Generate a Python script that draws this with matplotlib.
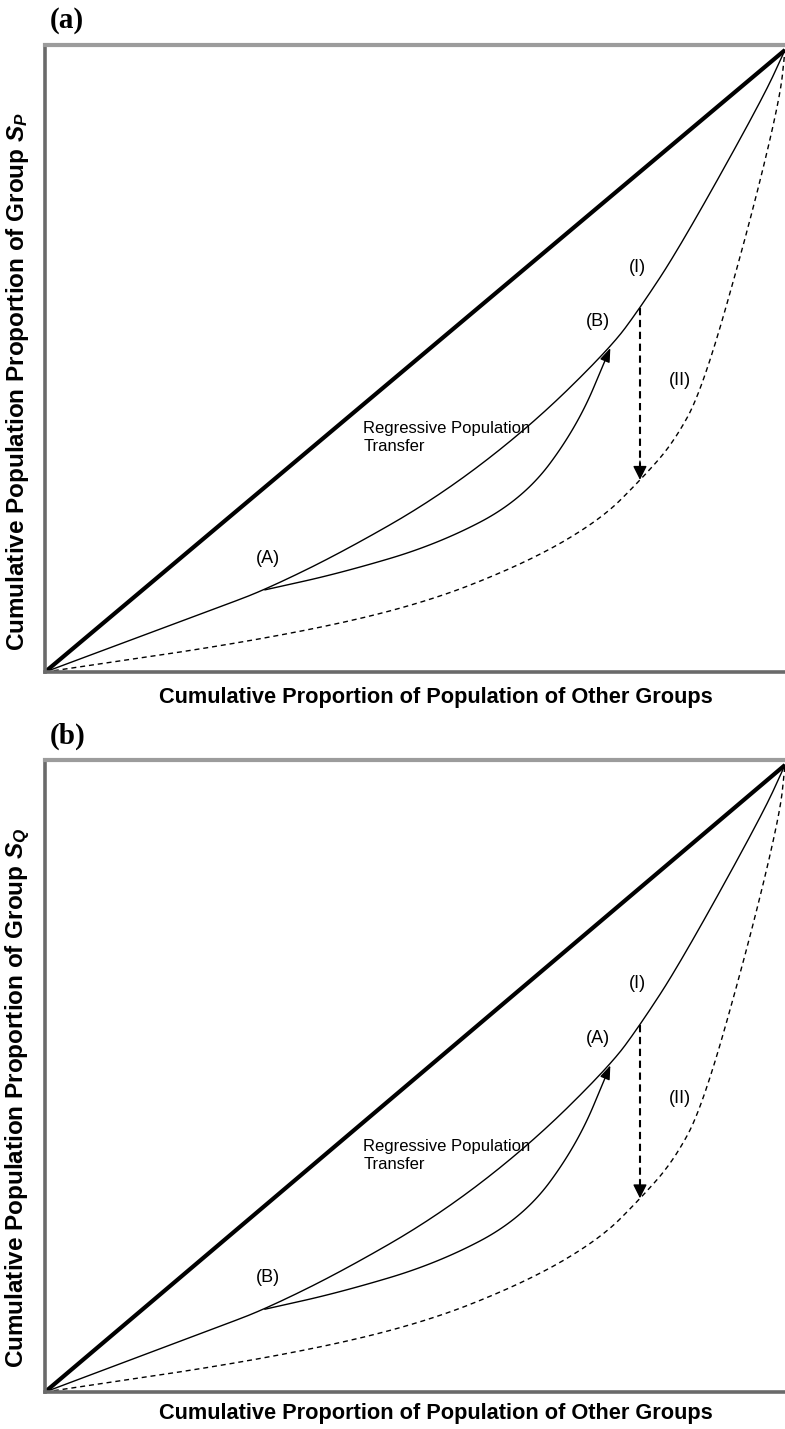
import numpy as np
import matplotlib
matplotlib.use("Agg")
import matplotlib.pyplot as plt
from matplotlib.path import Path
from matplotlib.patches import FancyArrowPatch

plt.rcParams['font.family'] = ['Liberation Sans', 'DejaVu Sans']
plt.rcParams['mathtext.fontset'] = 'custom'
plt.rcParams['mathtext.it'] = 'Liberation Sans:italic:bold'
plt.rcParams['mathtext.rm'] = 'Liberation Sans:bold'

# Line of equality
equality_x = [0.0, 1.0]
equality_y = [0.0, 1.0]

# Curve (I): concentration curve before the transfer
curve1_x = [0.0, 0.236, 0.297, 0.399, 0.530, 0.655, 0.764, 0.804, 0.858, 0.969, 1.0]
curve1_y = [0.0, 0.1045, 0.132, 0.191, 0.280, 0.394, 0.521, 0.585, 0.683, 0.920, 1.0]

# Curve (II): concentration curve after the transfer
curve2_x = [0.0, 0.291, 0.50, 0.65, 0.75, 0.805, 0.849, 0.888, 0.949, 0.993, 1.0]
curve2_y = [0.0, 0.051, 0.105, 0.175, 0.244, 0.309, 0.368, 0.453, 0.706, 0.920, 1.0]

# Regressive population transfer path between the two points on curve (I)
transfer_x = [0.297, 0.399, 0.530, 0.646, 0.719, 0.764]
transfer_y = [0.132, 0.159, 0.205, 0.277, 0.394, 0.521]

# Vertical shift from curve (I) down to curve (II)
shift_x = 0.804
shift_top = 0.585
shift_bottom = 0.309

panel_tags = ['(a)', '(b)']
group_subscripts = ['P', 'Q']
start_end_labels = [('(A)', '(B)'), ('(B)', '(A)')]
x_title = 'Cumulative Proportion of Population of Other Groups'
y_title = 'Cumulative Population Proportion of Group $S_{%s}$'
transfer_text = 'Regressive Population\nTransfer'

W, H = 785, 1429
fig = plt.figure(figsize=(W / 100, H / 100), dpi=100)


def smooth(xs, ys, steps=24):
    """Quadratic B-spline through segment midpoints for a smooth stroke."""
    p = np.column_stack([xs, ys]).astype(float)
    mids = (p[:-1] + p[1:]) / 2
    out = [p[0], mids[0]]
    t = np.linspace(0, 1, steps)[1:, None]
    for i in range(1, len(p) - 1):
        a, c, b = mids[i - 1], p[i], mids[i]
        out.extend((1 - t) ** 2 * a + 2 * (1 - t) * t * c + t ** 2 * b)
    out.append(p[-1])
    out = np.array(out)
    return out[:, 0], out[:, 1]


def panel(left, right, top, bottom, one_px, idx):
    ax = fig.add_axes([left / W, 1 - bottom / H, (right - left) / W, (bottom - top) / H])
    span = bottom - one_px
    ax.set_xlim(0, (right - left) / 740.0)
    ax.set_ylim(0, (bottom - top) / span)
    ax.set_xticks([])
    ax.set_yticks([])
    ax.spines['right'].set_visible(False)
    ax.spines['top'].set_color('#9c9c9c')
    ax.spines['top'].set_linewidth(3.0)
    for s in ('left', 'bottom'):
        ax.spines[s].set_color('#6a6a6a')
        ax.spines[s].set_linewidth(2.6)

    ax.plot(equality_x, equality_y, color='black', lw=3.0, solid_capstyle='butt')

    cx, cy = smooth(curve1_x, curve1_y)
    ax.plot(cx, cy, color='black', lw=1.0)

    dx, dy = smooth(curve2_x, curve2_y)
    ax.plot(dx, dy, color='black', lw=1.0, dashes=(3.6, 2.8))

    tx, ty = smooth(transfer_x, transfer_y)
    arrow = FancyArrowPatch(path=Path(np.column_stack([tx, ty])),
                            arrowstyle='-|>,head_length=0.6,head_width=0.22',
                            mutation_scale=14, color='black', lw=1.0)
    ax.add_patch(arrow)

    ax.plot([shift_x, shift_x], [shift_top, shift_bottom + 0.02], color='black',
            lw=1.5, dashes=(3.5, 2.2))
    ax.annotate('', xy=(shift_x, shift_bottom), xytext=(shift_x, shift_bottom + 0.03),
                arrowprops=dict(arrowstyle='-|>,head_length=0.6,head_width=0.3',
                                mutation_scale=14, color='black', lw=1.0,
                                shrinkA=0, shrinkB=0))

    lab_start, lab_end = start_end_labels[idx]
    fs = 13
    ax.text(0.801, 0.651, '(I)', fontsize=fs, ha='center', va='center')
    ax.text(0.747, 0.563, lab_end, fontsize=fs, ha='center', va='center')
    ax.text(0.858, 0.468, '(II)', fontsize=fs, ha='center', va='center')
    ax.text(0.301, 0.183, lab_start, fontsize=fs, ha='center', va='center')
    ax.text(0.43, 0.377, transfer_text, fontsize=12, ha='left', va='center',
            linespacing=1.25)
    return ax


panel(45, 790, 44.7, 672, 50, 0)
panel(45, 790, 759.5, 1392, 765, 1)

# panel tags
fig.text(50 / W, 1 - 21 / H, panel_tags[0], family='Liberation Serif',
         weight='bold', fontsize=21, ha='left', va='center')
fig.text(50 / W, 1 - 736 / H, panel_tags[1], family='Liberation Serif',
         weight='bold', fontsize=21, ha='left', va='center')

# axis titles
for xc, yc_label, yc_title, sub in [(436, 697, 382, group_subscripts[0]),
                                    (436, 1413, 1098, group_subscripts[1])]:
    fig.text(xc / W, 1 - yc_label / H, x_title, fontsize=15.7, weight='bold',
             ha='center', va='center')
    fig.text(18 / W, 1 - yc_title / H, y_title % sub, fontsize=17.5, weight='bold',
             rotation=90, ha='center', va='center')

fig.savefig('out.png', dpi=100)
